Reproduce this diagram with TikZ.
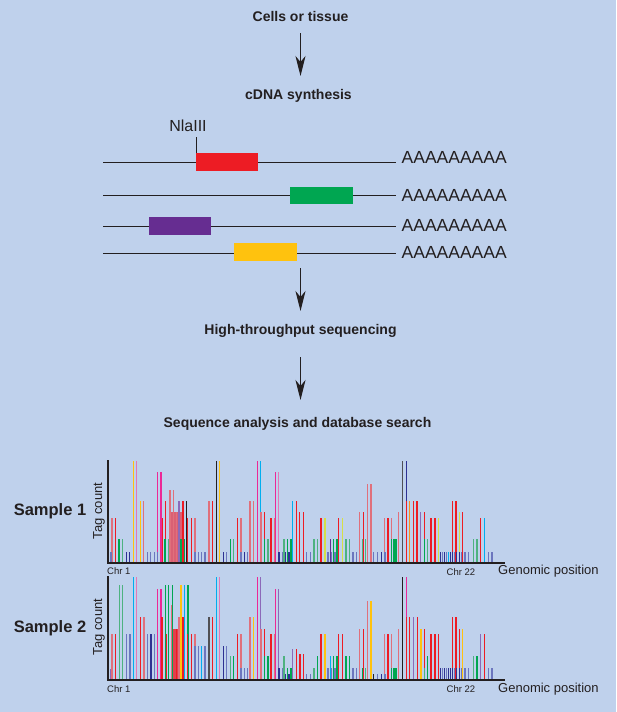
\documentclass[tikz,border=0pt]{standalone}
\usepackage{fontspec}
\setmainfont{Liberation Sans}
\usetikzlibrary{arrows.meta}
\definecolor{bgc}{RGB}{191,209,236}
\definecolor{ink}{RGB}{35,31,32}
\definecolor{cred}{RGB}{237,28,36}
\definecolor{cgreen}{RGB}{0,166,81}
\definecolor{cpurple}{RGB}{102,45,145}
\definecolor{cgold}{RGB}{255,194,14}
\definecolor{fred}{RGB}{224,112,124}
\definecolor{bred}{RGB}{222,84,104}
\definecolor{cpink}{RGB}{236,40,150}
\definecolor{fpink}{RGB}{226,120,182}
\definecolor{cblue}{RGB}{46,49,146}
\definecolor{fblue}{RGB}{108,118,190}
\definecolor{fgreen}{RGB}{78,178,128}
\definecolor{ccyan}{RGB}{0,174,239}
\definecolor{clime}{RGB}{214,224,70}
\definecolor{corange}{RGB}{247,148,29}
\definecolor{cgray}{RGB}{80,80,84}
\definecolor{fpurple}{RGB}{140,105,185}
\tikzset{
  head/.style={font=\bfseries\fontsize{14}{16}\selectfont, inner sep=0pt, anchor=base, text=ink},
  arr/.style={draw=ink, line width=1pt, -{Stealth[length=20pt,width=10pt,inset=6pt]}},
  dna/.style={draw=ink, line width=1pt},
  polya/.style={font=\fontsize{17.5}{19}\selectfont, inner sep=0pt, anchor=west, text=ink},
  axis/.style={draw=ink, line width=1.6pt},
  small/.style={font=\fontsize{9.5}{11}\selectfont, inner sep=0pt, text=ink},
  lab/.style={font=\fontsize{13}{15}\selectfont, inner sep=0pt, text=ink},
  samp/.style={font=\bfseries\fontsize{16.5}{18}\selectfont, inner sep=0pt, text=ink},
  bar/.style={line width=1.5pt},
  bR/.style={bar, draw=cred}, br/.style={bar, draw=fred},
  bP/.style={bar, draw=cpink}, bp/.style={bar, draw=fpink},
  bB/.style={bar, draw=cblue}, bb/.style={bar, draw=fblue},
  bG/.style={bar, draw=cgreen}, bg/.style={bar, draw=fgreen},
  bC/.style={bar, draw=ccyan}, bY/.style={bar, draw=cgold},
  by/.style={bar, draw=clime}, bO/.style={bar, draw=corange},
  bK/.style={bar, draw=ink}, bk/.style={bar, draw=cgray},
  bV/.style={bar, draw=cpurple}, bv/.style={bar, draw=fpurple}
}
\begin{document}
\begin{tikzpicture}[x=1pt,y=-1pt]
\fill[bgc] (0,0) rectangle (616,712);
\useasboundingbox (0,0) rectangle (616,712);

% headings and arrows
\node[head] (cells) at (300.5,21.7) {Cells or tissue};
\node[head] (cdna) at (298.5,99.5) {cDNA synthesis};
\node[head] (hts) at (300.5,334) {High-throughput sequencing};
\node[head] (seq) at (297.5,427) {Sequence analysis and database search};
\coordinate (a1s) at (300.5,33);
\coordinate (a1e) at (300.5,76);
\coordinate (a2s) at (300.5,268);
\coordinate (a2e) at (300.5,311);
\coordinate (a3s) at (300.5,357);
\coordinate (a3e) at (300.5,400);
\draw[arr] (a1s) -- (a1e);
\draw[arr] (a2s) -- (a2e);
\draw[arr] (a3s) -- (a3e);

% cDNA molecules
\coordinate (l1a) at (103.3,162.3); \coordinate (l1b) at (396,162.3);
\coordinate (l2a) at (103.3,195.7); \coordinate (l2b) at (396,195.7);
\coordinate (l3a) at (103.3,226);   \coordinate (l3b) at (396,226);
\coordinate (l4a) at (103.3,253.3); \coordinate (l4b) at (396,253.3);
\draw[dna] (l1a) -- (l1b);
\draw[dna] (l2a) -- (l2b);
\draw[dna] (l3a) -- (l3b);
\draw[dna] (l4a) -- (l4b);
\node[polya] (p1) at (401.5,157.5) {AAAAAAAAA};
\node[polya] (p2) at (401.5,195.3) {AAAAAAAAA};
\node[polya] (p3) at (401.5,225.5) {AAAAAAAAA};
\node[polya] (p4) at (401.5,252.8) {AAAAAAAAA};
\node[lab, font=\fontsize{16}{18}\selectfont, anchor=base] (nla) at (188,131.7) {NlaIII};
\coordinate (nt) at (196.5,137);
\coordinate (nb) at (196.5,156);
\draw[dna] (nt) -- (nb);
\fill[cred] (195.7,153.3) rectangle (258.3,171);
\fill[cgreen] (290,186.7) rectangle (352.7,204.3);
\fill[cpurple] (149,217.3) rectangle (211.3,234.7);
\fill[cgold] (234,243.3) rectangle (297,261);

% ---------- chart 1 ----------
\fill[bred, opacity=0.9] (170.5,512) rectangle (183.5,563);
\foreach \x/\t/\s in {
112/518/br,115.3/518/bR,119/539/bG,122.3/539/bg,126.3/552/bB,129.7/552/bB,
133.3/461/bY,136.7/461/bp,140.3/501/bY,143.7/501/br,
157.7/472/bP,161/472/bP,162.3/518/bR,165.7/501/bR,165/539/bG,168.3/539/bg,
170/490/br,173.3/490/br,176.5/512/br,179/501/bv,183/501/bR,181/539/bG,184.3/539/bG,
186.7/501/bK,187.7/518/bR,191.3/518/bR,195/518/br,
209/501/br,212.3/501/bR,216.3/461/bK,219.7/461/bY,
230.3/539/bG,233.7/539/bg,237.3/518/bR,241/518/br,
250/501/br,253.7/501/br,257.7/461/bP,260.7/461/bC,261/512/br,264.3/512/bR,
264.3/539/bG,268/539/bg,271/518/bR,274.7/518/br,275.7/472/bP,278.7/472/bp,
284/539/bg,287.3/539/bG,291/539/bG,292.7/501/bC,296.3/501/bR,
299.7/512/bR,303.3/512/bR,314/539/bg,317.3/539/bg,321/518/bR,325/518/by,
330.3/539/bV,333.7/539/bG,337/539/bG,338.7/518/bR,342.3/518/by,
346/539/bg,349.7/539/bg,359.7/512/br,363.3/512/bR,362.3/539/bg,365.7/539/bg,
367.3/484/br,371/484/br,384.3/518/br,388/518/bR,391.7/518/br,
391.7/539/bG,393.3/539/bG,395/539/bG,396.7/539/bG,398.3/539/bG,398.3/512/br,
402.7/461/bk,406.3/461/bB,406.3/501/bR,409.7/501/bO,413.3/501/bR,417/501/bR,
420.7/512/bv,424.3/512/bR,424.3/539/bG,427.7/539/bg,
431/518/bR,435/518/bR,438.3/518/by,452.3/501/bR,456/501/bR,459.3/512/by,462.7/512/bR,
473.3/539/bg,477/539/bg,480.7/518/bR,484.3/518/bC}
  {\draw[\s] (\x,563) -- (\x,\t);}
\foreach \x/\s in {111/bb,147.3/bb,150.7/bb,154.3/bb,157.7/bb,195/bb,198.3/bb,201.7/bb,205/bb,
223.3/bB,226.7/bb,241/bb,244.3/bB,247.7/bb,279/bB,282.3/bb,285.7/bB,289/bB,
306.7/bb,310.3/bb,328/bb,331.7/bb,335/bb,353/bb,356.3/bb,
373.7/bb,377.3/bb,381.3/bB,385/bb,
440.5/bB,442.5/bb,444.5/bB,446.5/bb,448.3/bC,450.3/bB,452.3/bB,454.5/bb,456.7/bB,459.7/bB,461.7/bb,465/bb,468.3/bb,
488.3/bb,492/bb}
  {\draw[\s] (\x,563) -- (\x,552);}
\coordinate (o1) at (107.7,563);
\coordinate (t1) at (107.7,460);
\coordinate (e1) at (505,563);
\draw[axis] (t1) -- (o1) -- (e1);
\node[samp] (s1) at (50,511) {Sample 1};
\node[lab, rotate=90] (tc1) at (99,511) {Tag count};
\node[small, anchor=west] (c1a) at (107,571.5) {Chr 1};
\node[small] (c1b) at (461,572) {Chr 22};
\node[lab, anchor=west] (g1) at (498,571) {Genomic position};

% ---------- chart 2 ----------
\fill[cred, opacity=0.8] (170.5,629) rectangle (183.5,680);
\foreach \x/\t/\s in {
110.7/669/bv,112/634/br,115.3/634/bR,119.3/585/bg,122.7/585/bg,126.3/634/bb,130/634/bb,
133.3/577/bC,136.7/577/bp,140.3/617/bR,144/617/br,
147.7/634/bb,151/634/bB,154.3/634/bb,157.7/589/bP,161/589/bP,162/617/bR,
165.3/585/bG,168.7/585/bG,166.7/634/bR,171.7/605/br,172.7/585/bG,176.5/629/bR,
179/617/br,181/585/bY,183/617/bR,184.7/585/bC,188/585/bG,
187.3/634/bR,191.3/634/bR,195/634/br,
195/646/bb,198.3/646/bb,201.7/646/bC,205/646/bb,209/617/bk,212.3/617/bR,
216.3/577/bC,219.7/577/bp,223.3/646/bB,226.7/646/bb,230.3/656/bg,233.7/656/bG,
237.3/634/bR,241/634/br,250/617/br,253.7/617/bY,257.7/577/bP,260.7/577/bv,
261/629/br,264.3/629/bR,264.3/656/bG,268/656/bG,271/634/bR,274.7/634/br,
275.7/589/bP,278.7/589/bv,284/656/bg,287.3/668/bG,291/668/bG,
292.7/649/bv,296.3/649/bR,300/654/bR,303.3/654/bR,
314/668/bg,317.3/656/bG,321/634/bR,325/634/bY,
330.3/656/bC,333.7/656/bG,337/656/bG,338.7/634/bR,342.3/634/bR,
346/656/bG,349.7/656/bG,359.7/629/br,363.3/629/bR,362.3/668/bG,365.7/668/bg,
367.3/601/br,371/601/bY,384.3/634/br,388/634/bR,391.7/634/br,
391.7/668/bG,393.3/668/bG,395/668/bG,396.7/668/bG,398.3/668/bG,398.3/629/br,
402.7/577/bK,406.3/577/bP,406.3/617/bR,409.7/617/bR,413.7/617/bv,417.3/617/bR,
421/629/bY,424.3/629/bR,424.3/668/bg,427.7/656/bG,
431/634/bR,435/634/bR,438.3/634/bR,452.3/617/bR,456/617/bR,459.3/629/bR,462.7/629/bY,
473.3/656/bg,477/656/bG,480.7/634/bv,484.3/634/bR}
  {\draw[\s] (\x,680) -- (\x,\t);}
\foreach \x/\t/\s in {241/668/bb,244.3/668/bb,247.7/668/bb,279/668/bB,282.3/668/bb,
285.7/674/bB,289/674/bB,306.7/674/bb,310.3/674/bb,328/668/bb,331.7/668/bb,335/668/bb,
353/668/bb,356.3/668/bb,373.7/674/bK,377.3/674/bb,381.3/674/bB,385/674/bb,
440.5/668/bB,442.5/668/bb,444.5/668/bB,446.5/668/bb,448.3/668/bB,450.3/668/bB,452.3/668/bB,
454.5/668/bb,456.7/668/bB,459.7/668/bB,461.7/668/bb,465/668/bb,468.3/668/bb,
488.3/668/bb,492/668/bb}
  {\draw[\s] (\x,680) -- (\x,\t);}
\coordinate (o2) at (107.7,680);
\coordinate (t2) at (107.7,576);
\coordinate (e2) at (505,680);
\draw[axis] (t2) -- (o2) -- (e2);
\node[samp] (s2) at (50,628) {Sample 2};
\node[lab, rotate=90] (tc2) at (99,627) {Tag count};
\node[small, anchor=west] (c2a) at (107,689) {Chr 1};
\node[small] (c2b) at (461,689) {Chr 22};
\node[lab, anchor=west] (g2) at (498,689.5) {Genomic position};
\end{tikzpicture}
\end{document}
